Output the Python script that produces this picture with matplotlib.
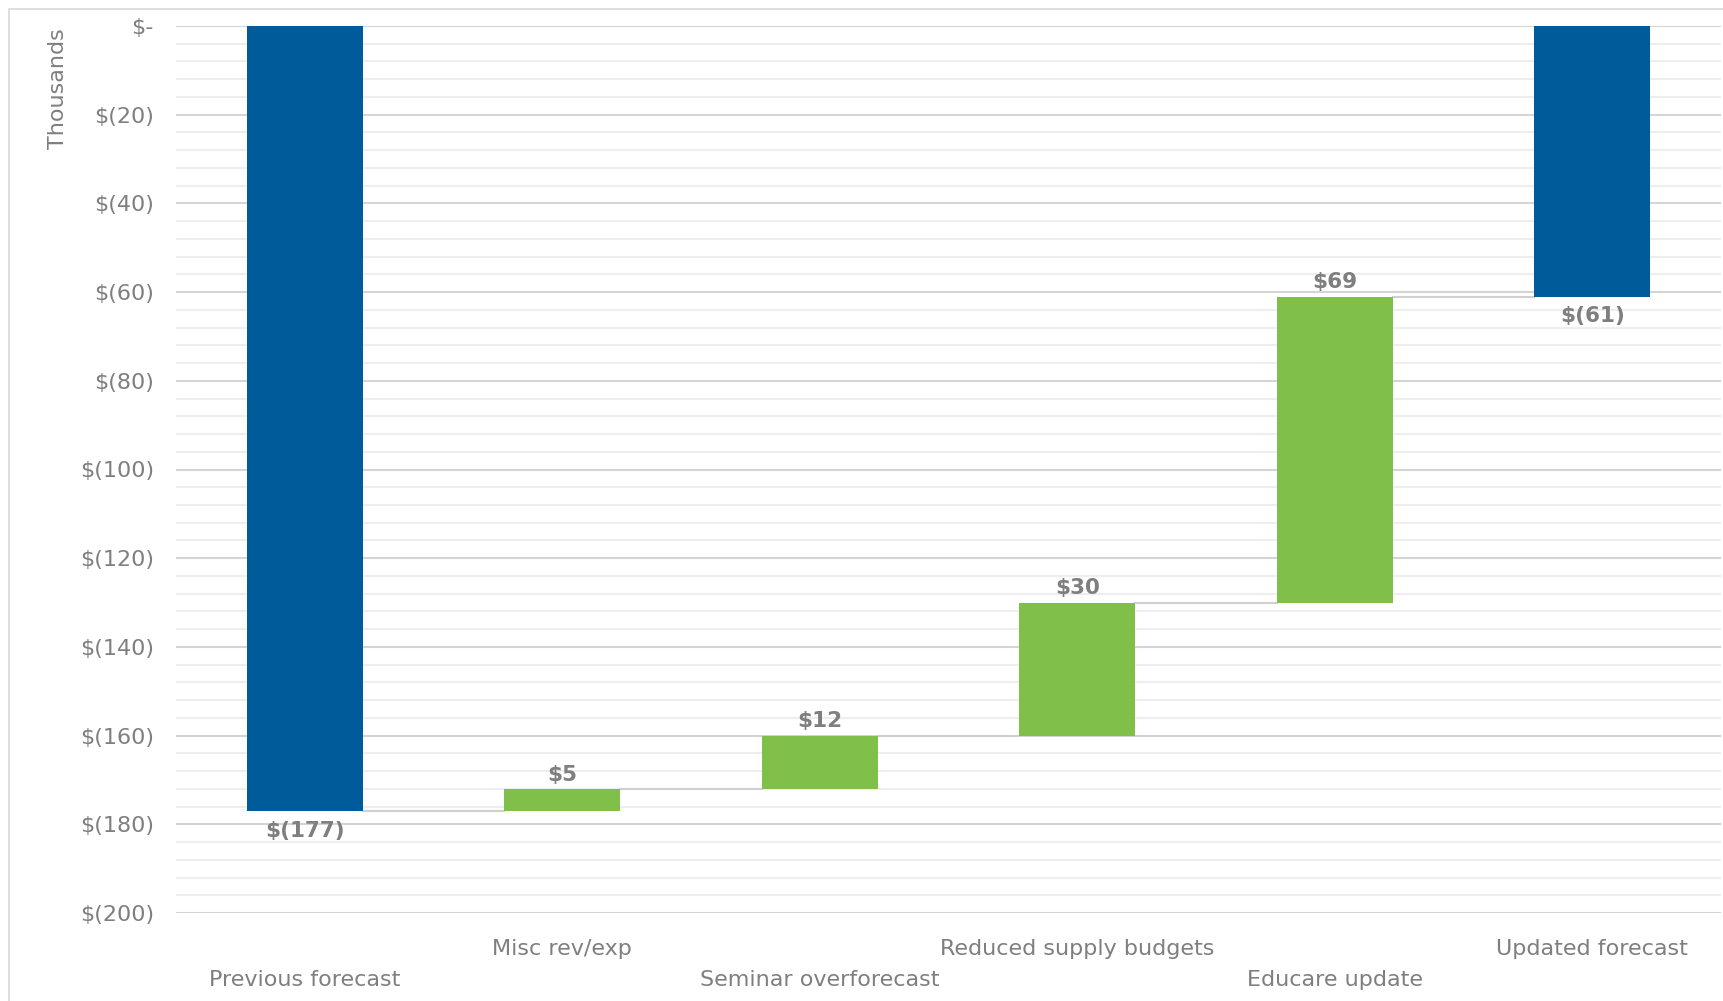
import matplotlib
matplotlib.use("Agg")
import matplotlib.pyplot as plt
import numpy as np
from matplotlib.patches import Rectangle

categories = ["Previous forecast", "Misc rev/exp", "Seminar overforecast",
              "Reduced supply budgets", "Educare update", "Updated forecast"]
values = [-177, 5, 12, 30, 69, -61]
is_total = [True, False, False, False, False, True]
yticks = [0, -20, -40, -60, -80, -100, -120, -140, -160, -180, -200]
ytick_labels = ["$-", "$(20)", "$(40)", "$(60)", "$(80)", "$(100)", "$(120)",
                "$(140)", "$(160)", "$(180)", "$(200)"]
value_labels = ["$(177)", "$5", "$12", "$30", "$69", "$(61)"]

BLUE = "#005B9A"
GREEN = "#80C04A"
GRAY = "#7F7F7F"
plt.rcParams['font.family'] = ["DejaVu Sans"]

fig = plt.figure(figsize=(17.23, 10.01), dpi=100)
ax = fig.add_axes([176/1723, 1-913/1001, 1545/1723, 887/1001])

# outer frame
fig.patches.append(Rectangle((9/1723, -0.01), 1.02, 1-9/1001+0.01, transform=fig.transFigure,
                             fill=False, edgecolor="#D9D9D9", lw=1.2))

x = np.arange(len(categories))
width = 0.45
bottoms, tops = [], []
cum = 0
for v, tot in zip(values, is_total):
    if tot:
        b, t = 0, v
        cum = v
    else:
        b, t = cum, cum + v
        cum = cum + v
    bottoms.append(b)
    tops.append(t)

heights = [t - b for b, t in zip(bottoms, tops)]
colors = [BLUE if t else GREEN for t in is_total]
ax.bar(x, heights, bottom=bottoms, width=width, color=colors, zorder=3)

# connectors
for i in range(len(x) - 1):
    level = tops[i]
    ax.plot([x[i] + width/2, x[i+1] - width/2], [level, level], color="#D0D0D0", lw=1.5, zorder=2)

# value labels
for i, (lab, tot) in enumerate(zip(value_labels, is_total)):
    if tot:
        ax.annotate(lab, (x[i], tops[i]), xytext=(0, -7), textcoords="offset points",
                    ha="center", va="top", fontsize=15.5, fontweight="bold", color=GRAY)
    else:
        ax.annotate(lab, (x[i], tops[i]), xytext=(0, 3), textcoords="offset points",
                    ha="center", va="bottom", fontsize=15.5, fontweight="bold", color=GRAY)

ax.set_xlim(-0.5, len(x) - 0.5)
ax.set_ylim(-200, 0)
ax.set_yticks(yticks)
ax.set_yticklabels(ytick_labels)
ax.set_yticks(np.arange(-200, 1, 4), minor=True)
ax.grid(axis="y", which="major", color="#D4D4D4", lw=1.5, zorder=0)
ax.grid(axis="y", which="minor", color="#EEEEEE", lw=1.5, zorder=0)
ax.tick_params(axis="y", which="both", length=0, labelsize=16, labelcolor=GRAY, pad=16)
ax.tick_params(axis="x", length=0, labelsize=16, labelcolor=GRAY, pad=19)
ax.set_xticks(x)
ax.set_xticklabels(categories)
for i, lab in enumerate(ax.get_xticklabels()):
    if i % 2 == 0:
        lab.set_y(-0.035)
for s in ax.spines.values():
    s.set_visible(False)

fig.text(58/1723, 1-28/1001, "Thousands", rotation=90, ha="center", va="top",
         fontsize=16, color=GRAY)

fig.savefig("out.png", dpi=100)
